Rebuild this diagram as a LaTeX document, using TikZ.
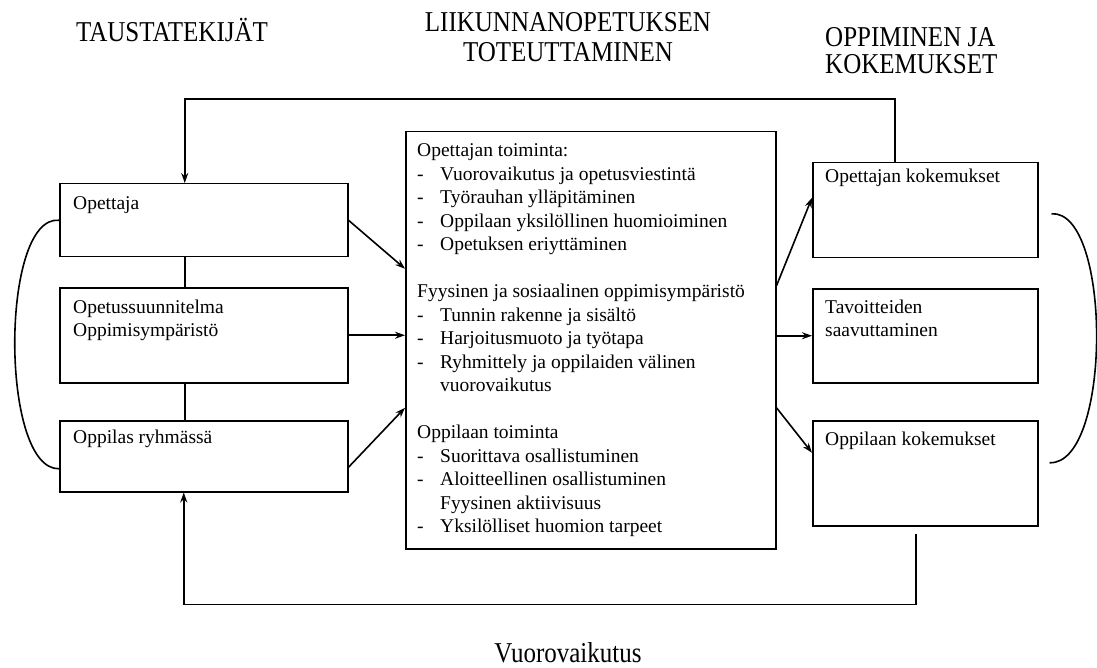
\documentclass[tikz,border=0pt]{standalone}
\usepackage{fontspec}
\setmainfont{Liberation Serif}
\usetikzlibrary{arrows.meta,positioning}
\newcommand{\viiva}{\makebox[23pt][l]{-}}
\newcommand{\rivit}[1]{\begin{tabular}[t]{@{}l@{}}#1\end{tabular}}
\newcommand{\korkea}[1]{\scalebox{1}[1.15]{#1}}
\tikzset{
  box/.style={draw,line width=1.5pt,anchor=north west,inner sep=0pt},
  txt/.style={anchor=base west,inner sep=0pt,font=\fontsize{19.5}{23.5}\selectfont},
  ttl/.style={inner sep=0pt,font=\fontsize{25}{26}\selectfont},
  con/.style={line width=1.6pt},
  arr/.style={con,-{Stealth[length=10pt,width=7pt]}},
}
\begin{document}
\begin{tikzpicture}[x=1pt,y=-1pt]
\useasboundingbox (0,0) rectangle (1097,668);
% otsikot
\node[ttl,anchor=base] (h-tausta) at (172,42) {\korkea{TAUSTATEKIJÄT}};
\node[ttl,anchor=base] (h-toteutus) at (568,32) {\korkea{\begin{tabular}[t]{@{}c@{}}LIIKUNNANOPETUKSEN\\TOTEUTTAMINEN\end{tabular}}};
\node[ttl,anchor=base west,font=\fontsize{25}{21.7}\selectfont] (h-oppiminen) at (825,47) {\korkea{\rivit{OPPIMINEN JA\\KOKEMUKSET}}};
% laatikot
\node[box,minimum width=288pt,minimum height=73pt] (opettaja) at (59,183) {};
\node[box,minimum width=288pt,minimum height=95pt] (ops) at (59,287) {};
\node[box,minimum width=288pt,minimum height=71pt] (oppilas) at (59,420) {};
\node[box,minimum width=370pt,minimum height=417pt] (toteutus) at (405,131) {};
\node[box,minimum width=225pt,minimum height=95pt] (opkok) at (812,162) {};
\node[box,minimum width=225pt,minimum height=94pt] (tavoite) at (812,288) {};
\node[box,minimum width=225pt,minimum height=105pt] (oppkok) at (812,420) {};
% tekstit
\node[txt] (t-opettaja) at ([shift={(14,27)}]opettaja.north west) {Opettaja};
\node[txt] (t-ops) at ([shift={(14,26)}]ops.north west) {\rivit{Opetussuunnitelma\\Oppimisympäristö}};
\node[txt] (t-oppilas) at ([shift={(14,23)}]oppilas.north west) {Oppilas ryhmässä};
\node[txt] (t-toteutus) at ([shift={(12,26)}]toteutus.north west) {\rivit{%
Opettajan toiminta:\\
\viiva Vuorovaikutus ja opetusviestintä\\
\viiva Työrauhan ylläpitäminen\\
\viiva Oppilaan yksilöllinen huomioiminen\\
\viiva Opetuksen eriyttäminen\\
\\
Fyysinen ja sosiaalinen oppimisympäristö\\
\viiva Tunnin rakenne ja sisältö\\
\viiva Harjoitusmuoto ja työtapa\\
\viiva Ryhmittely ja oppilaiden välinen\\
\hspace*{23pt}vuorovaikutus\\
\\
Oppilaan toiminta\\
\viiva Suorittava osallistuminen\\
\viiva Aloitteellinen osallistuminen\\
\hspace*{23pt}Fyysinen aktiivisuus\\
\viiva Yksilölliset huomion tarpeet}};
\node[txt] (t-opkok) at ([shift={(13,21)}]opkok.north west) {Opettajan kokemukset};
\node[txt] (t-tavoite) at ([shift={(13,25)}]tavoite.north west) {\rivit{Tavoitteiden\\saavuttaminen}};
\node[txt] (t-oppkok) at ([shift={(13,25)}]oppkok.north west) {Oppilaan kokemukset};
\node[ttl,anchor=base] (vuoro) at (568,662) {\korkea{Vuorovaikutus}};
% yhteydet
\draw[con] ([xshift=-19pt]opettaja.south) -- ([xshift=-19pt]ops.north);
\draw[con] ([xshift=-19pt]ops.south) -- ([xshift=-19pt]oppilas.north);
\draw[arr] (opettaja.east) -- ([yshift=71.5pt]toteutus.west);
\draw[arr] (ops.east) -- (ops.east -| toteutus.west);
\draw[arr] ([yshift=-11pt]oppilas.east) -- ([yshift=-67.5pt]toteutus.west);
\draw[arr] ([yshift=54.5pt]toteutus.east) -- ([yshift=12.5pt]opkok.west);
\draw[arr] (tavoite.west -| toteutus.east) -- (tavoite.west);
\draw[arr] ([yshift=-67.5pt]toteutus.east) -- ([yshift=20.5pt]oppkok.west);
% palaute
\draw[arr] ([xshift=-30.5pt]opkok.north) -- ++(0,-63) -| ([xshift=-19pt]opettaja.north);
\draw[arr] ([shift={(-9.5pt,-7pt)}]oppkok.south) -- ++(0,71) -| ([xshift=-20pt]oppilas.south);
% kaaret
\draw[con] (opettaja.west) .. controls (0,215) and (0,470) .. ([yshift=-12.5pt]oppilas.west);
\draw[con] ([shift={(13pt,-3.5pt)}]opkok.east) .. controls (1112,210) and (1112,465) .. ([shift={(11pt,10.5pt)}]oppkok.east);
\end{tikzpicture}
\end{document}
